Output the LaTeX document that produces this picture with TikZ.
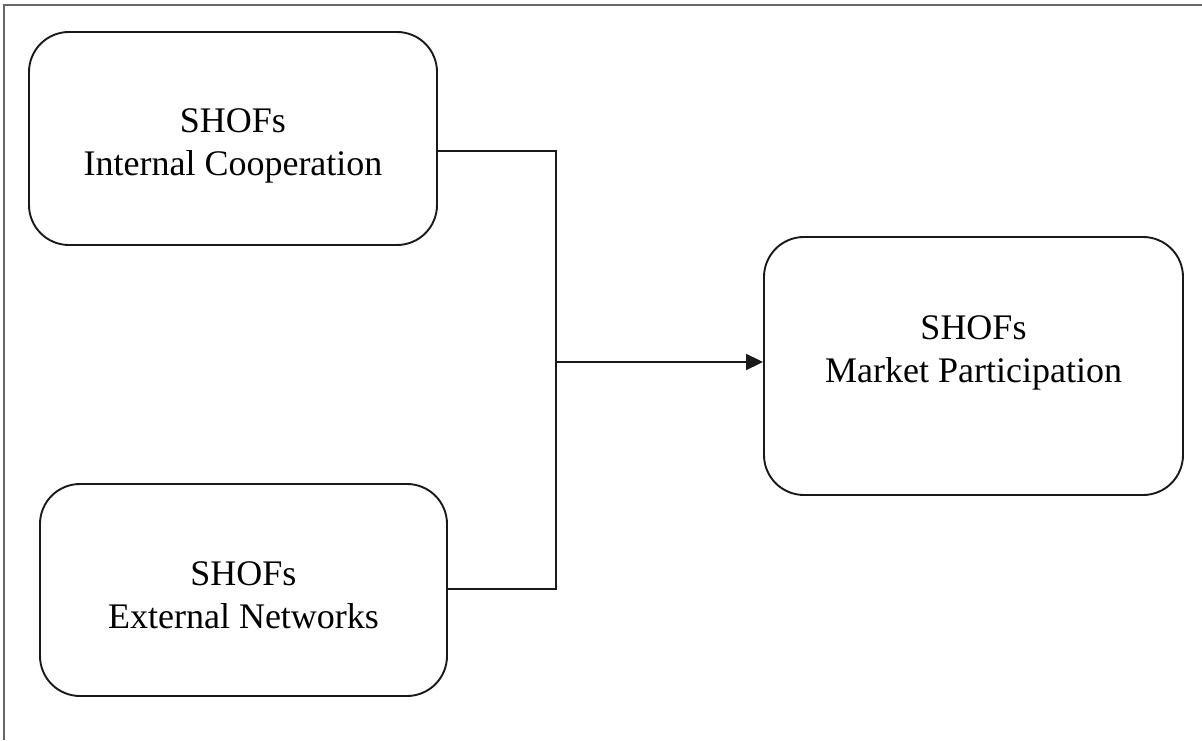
\documentclass[tikz,border=0pt]{standalone}
\usepackage{fontspec}
\setmainfont{Liberation Serif}
\usetikzlibrary{arrows.meta}
\begin{document}
\begin{tikzpicture}[x=1pt,y=1pt,
  box/.style={draw=black!90, line width=1.9pt, rounded corners=40pt, inner sep=0pt},
  lbl/.style={align=center, font=\fontsize{36}{43}\selectfont, inner sep=0pt},
  link/.style={draw=black!90, line width=1.9pt}]
  \useasboundingbox (0,0) rectangle (1202,740);
  % outer frame (top and left edges)
  \draw[gray!80!black, line width=1.4pt] (4,0) -- (4,735) -- (1202,735);
  % boxes
  \node[box, minimum width=408pt, minimum height=213pt] (ic) at (233,601.5) {};
  \node[box, minimum width=407pt, minimum height=212pt] (en) at (243.5,150) {};
  \node[box, minimum width=419pt, minimum height=258pt] (mp) at (973.5,374) {};
  % labels
  \node[lbl] (icl) at (233,594.5) {SHOFs\\Internal Cooperation};
  \node[lbl] (enl) at (243.5,145) {SHOFs\\External Networks};
  \node[lbl] (mpl) at (973.5,387) {SHOFs\\Market Participation};
  % connectors
  \coordinate (top) at (556,589);
  \coordinate (bot) at (556,151);
  \coordinate (mid) at (556,378);
  \draw[link] (ic.east |- top) -- (top) -- (bot) -- (en.east |- bot);
  \draw[link, -{Triangle[length=17pt,width=16pt]}] (mid) -- (mp.west |- mid);
\end{tikzpicture}
\end{document}
